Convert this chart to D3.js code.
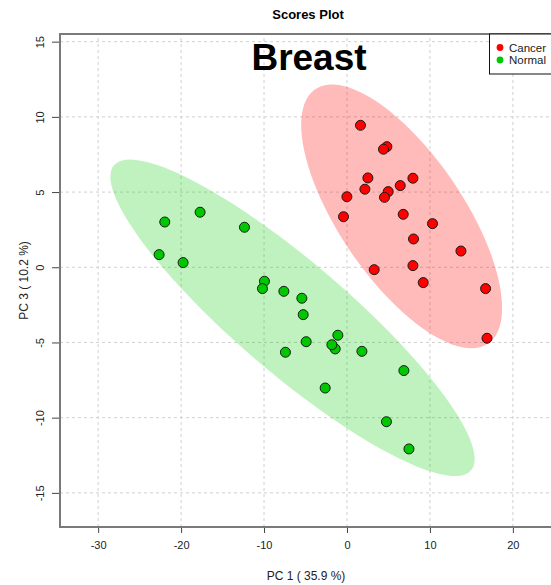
<!DOCTYPE html>
<html>
<head>
<meta charset="utf-8">
<script src="https://cdn.jsdelivr.net/npm/d3@7"></script>
<style>
  body { margin: 0; background: #fff; }
  svg { display: block; font-family: "Liberation Sans", Arial, sans-serif; }
</style>
</head>
<body>
<div id="chart"></div>
<script>
// scores: PC1 (x) and PC3 (y)
var cancerX = [1.63, 4.81, 4.40, 2.52, 7.95, 2.16, 6.42, 4.97, 4.52, -0.01,
               -0.42, 6.78, 10.31, 8.02, 13.74, 3.28, 7.95, 9.19, 16.71, 16.88];
var cancerY = [9.44, 8.02, 7.85, 5.94, 5.92, 5.19, 5.43, 5.03, 4.65, 4.69,
               3.36, 3.52, 2.90, 1.88, 1.08, -0.16, 0.11, -1.02, -1.42, -4.72];
var normalX = [-21.97, -17.71, -12.36, -22.65, -19.76, -9.95, -10.19, -7.61, -5.44, -5.28,
               -4.92, -7.42, -1.42, -1.82, -1.10, 1.80, 6.86, -2.63, 4.76, 7.47];
var normalY = [3.01, 3.66, 2.66, 0.84, 0.31, -0.93, -1.42, -1.60, -2.06, -3.15,
               -4.95, -5.65, -5.43, -5.15, -4.52, -5.59, -6.87, -8.03, -10.27, -12.08];
var groups = ["Cancer", "Normal"];
var xTicks = [-30, -20, -10, 0, 10, 20];
var yTicks = [-15, -10, -5, 0, 5, 10, 15];

var colors = { Cancer: "#ff0000", Normal: "#00c800" };

var width = 551, height = 585;
var margin = { top: 34, right: -5, bottom: 58, left: 60 };

var svg = d3.select("#chart").append("svg")
  .attr("width", width)
  .attr("height", height);

var x = d3.scaleLinear().domain([-34.6, 25.2]).range([margin.left, width - margin.right]);
var y = d3.scaleLinear().domain([-17.27, 15.51]).range([height - margin.bottom, margin.top]);

var fmt = function(d) { return String(d); };

// grid
svg.append("g").selectAll("line").data(xTicks).enter().append("line")
  .attr("x1", function(d) { return x(d); })
  .attr("x2", function(d) { return x(d); })
  .attr("y1", y.range()[0]).attr("y2", y.range()[1])
  .attr("stroke", "#d0d0d0").attr("stroke-dasharray", "3,3");
svg.append("g").selectAll("line").data(yTicks).enter().append("line")
  .attr("y1", function(d) { return y(d); })
  .attr("y2", function(d) { return y(d); })
  .attr("x1", x.range()[0]).attr("x2", x.range()[1])
  .attr("stroke", "#d0d0d0").attr("stroke-dasharray", "3,3");

// 95% confidence ellipse, same way as R's ellipse package
function ellipse(xs, ys) {
  var mx = d3.mean(xs), my = d3.mean(ys);
  var sx = d3.deviation(xs), sy = d3.deviation(ys);
  var cov = d3.sum(xs, function(v, i) { return (v - mx) * (ys[i] - my); }) / (xs.length - 1);
  var d = Math.acos(cov / (sx * sy));
  var t = Math.sqrt(5.991465);
  var pts = d3.range(100).map(function(i) {
    var a = i / 99 * 2 * Math.PI;
    return [mx + t * sx * Math.cos(a + d / 2), my + t * sy * Math.cos(a - d / 2)];
  });
  return pts;
}

var line = d3.line()
  .x(function(p) { return x(p[0]); })
  .y(function(p) { return y(p[1]); })
  .curve(d3.curveLinearClosed);

svg.append("path").attr("d", line(ellipse(cancerX, cancerY)))
  .attr("fill", colors.Cancer).attr("fill-opacity", 0.27);
svg.append("path").attr("d", line(ellipse(normalX, normalY)))
  .attr("fill", "#00cd00").attr("fill-opacity", 0.25);

// points
function drawPoints(xs, ys, col) {
  svg.append("g").selectAll("circle").data(xs).enter().append("circle")
    .attr("cx", function(d) { return x(d); })
    .attr("cy", function(d, i) { return y(ys[i]); })
    .attr("r", 5)
    .attr("fill", col)
    .attr("stroke", "#1a1a1a")
    .attr("stroke-width", 1);
}
drawPoints(cancerX, cancerY, colors.Cancer);
drawPoints(normalX, normalY, colors.Normal);

// axes
var xAxis = svg.append("g")
  .attr("transform", "translate(0," + y.range()[0] + ")")
  .call(d3.axisBottom(x).tickValues(xTicks).tickFormat(fmt).tickSize(6).tickPadding(8));
var yAxis = svg.append("g")
  .attr("transform", "translate(" + x.range()[0] + ",0)")
  .call(d3.axisLeft(y).tickValues(yTicks).tickFormat(fmt).tickSize(8));

[xAxis, yAxis].forEach(function(g) {
  g.select(".domain").remove();
  g.selectAll(".tick line").attr("stroke", "#444");
  g.selectAll(".tick text").attr("fill", "#222").style("font-size", "11px")
    .style("font-family", "Liberation Sans, Arial, sans-serif");
});
yAxis.selectAll(".tick text")
  .attr("x", null).attr("dy", null)
  .attr("text-anchor", "middle")
  .attr("transform", "translate(-16,0) rotate(-90)");

// frame
svg.append("path")
  .attr("d", "M" + (width + 5) + "," + y.range()[1] + "H" + x.range()[0] +
    "V" + y.range()[0] + "H" + (width + 5))
  .attr("fill", "none").attr("stroke", "#7a7a7a").attr("stroke-width", 2);

// titles
svg.append("text").attr("x", 308).attr("y", 19)
  .attr("text-anchor", "middle").style("font-size", "13px").style("font-weight", "bold")
  .text("Scores Plot");
svg.append("text").attr("x", 309).attr("y", 70)
  .attr("text-anchor", "middle").style("font-size", "37px").style("font-weight", "bold")
  .text("Breast");
svg.append("text").attr("x", 306).attr("y", 580)
  .attr("text-anchor", "middle").style("font-size", "12px").attr("fill", "#222")
  .text("PC 1 ( 35.9 %)");
svg.append("text").attr("transform", "translate(28," + ((y.range()[0] + y.range()[1]) / 2) + ") rotate(-90)")
  .attr("text-anchor", "middle").style("font-size", "12px").attr("fill", "#222")
  .text("PC 3 ( 10.2 %)");

// legend
var leg = svg.append("g");
leg.append("rect").attr("x", 489.5).attr("y", 34).attr("width", 80).attr("height", 40)
  .attr("fill", "#fff").attr("stroke", "#111").attr("stroke-width", 1);
groups.forEach(function(gname, i) {
  leg.append("circle").attr("cx", 500).attr("cy", 47.5 + i * 12.5).attr("r", 3.4)
    .attr("fill", colors[gname]);
  leg.append("text").attr("x", 509).attr("y", 51.5 + i * 12.5)
    .style("font-size", "11.5px").attr("fill", "#222").text(gname);
});
</script>
</body>
</html>
